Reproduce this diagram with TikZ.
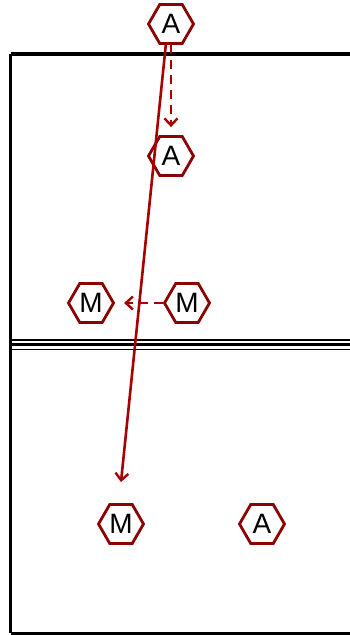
\documentclass[tikz,border=0pt]{standalone}
\usepackage{fontspec}
\setmainfont{Liberation Sans}
\usetikzlibrary{shapes.geometric,arrows.meta}
\definecolor{hexred}{HTML}{8B0000}
\definecolor{arrred}{HTML}{A80000}
\begin{document}
\begin{tikzpicture}[x=1pt,y=-1pt,
  player/.style={regular polygon, regular polygon sides=6, minimum size=45pt, inner sep=0pt,
    draw=hexred, line width=2.8pt, fill=white, font=\fontsize{28}{28}\selectfont},
  move/.style={draw=arrred, line width=2.6pt, -{Straight Barb[length=7pt,width=13pt,line width=2.4pt]}},
  runline/.style={move, dash pattern=on 9pt off 6pt},
  courtline/.style={draw=black, line width=3.2pt},
  netline/.style={draw=black}]
\useasboundingbox (0,0) rectangle (350,635);
\clip (0,0) rectangle (350,635);
\fill[white] (0,0) rectangle (350,635);
% court
\draw[courtline] (10.5,54) -- (360,54);
\draw[courtline] (10.5,54) -- (10.5,633);
\draw[draw=black,line width=3pt] (10.5,633) -- (360,633);
% net
\draw[netline, line width=1.7pt] (10.5,340) -- (360,340);
\draw[netline, line width=3.4pt] (10.5,344.5) -- (360,344.5);
\draw[netline, line width=1.7pt] (10.5,349.5) -- (360,349.5);
% players
\node[player] (A1) at (171,24) {A};
\node[player] (A2) at (171,156) {A};
\node[player] (M1) at (91,303) {M};
\node[player] (M2) at (187,303) {M};
\node[player] (M3) at (121,524) {M};
\node[player] (A3) at (262,524) {A};
% movements
\coordinate (S1) at (166,43);
\coordinate (E1) at (121,482);
\draw[move] (S1) -- (E1);
\draw[runline, shorten >=8pt] (A1.south) -- (A2.north);
\draw[runline, shorten >=9pt] (M2.west) -- (M1.east);
\end{tikzpicture}
\end{document}
